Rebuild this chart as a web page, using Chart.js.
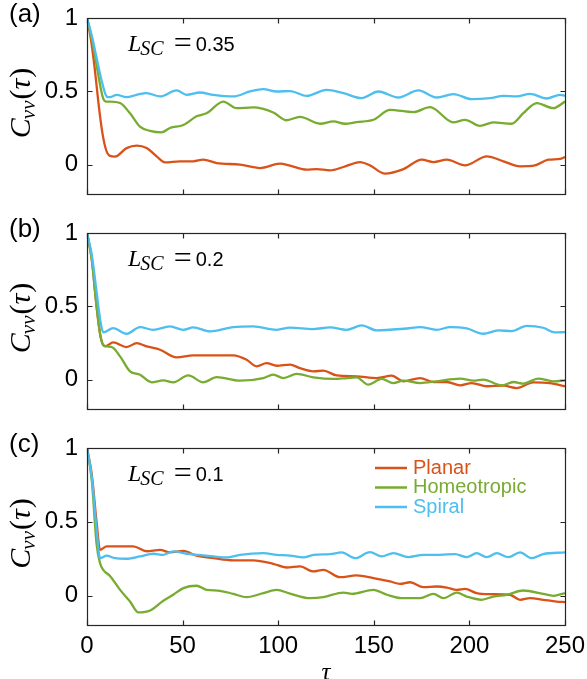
<!DOCTYPE html>
<html>
<head>
<meta charset="utf-8">
<script src="https://cdn.jsdelivr.net/npm/chart.js@4"></script>
<style>
  body { margin: 0; background: #fff; overflow: hidden; }
  #wrap { position: relative; width: 587px; height: 679px; }
  canvas { position: absolute; left: 0; }
</style>
</head>
<body>
<div id="wrap">
  <canvas id="ChartA" width="587" height="210" style="top:0px"></canvas>
  <canvas id="ChartB" width="587" height="215" style="top:210px"></canvas>
  <canvas id="ChartC" width="587" height="254" style="top:425px"></canvas>
</div>
<script>
// names and ticks
var seriesNames = ['Planar', 'Homeotropic', 'Spiral'];
var seriesColors = ['#D95319', '#77AC30', '#4DBEEE'];
var panelLetters = ['(a)', '(b)', '(c)'];
var lscValues = ['0.35', '0.2', '0.1'];
var xTicks = [0, 50, 100, 150, 200, 250];
var yTicks = [0, 0.5, 1];

// (a) L_SC = 0.35
var tauA_planar = [0, 2, 4, 6, 8, 10, 12, 14.6, 20.7, 26, 31.2, 36.4, 40.8, 48.6, 55.6, 60.8, 67.8, 80, 90.5, 100.9, 106.2, 114.9, 120.1, 127.1, 134.1, 142.8, 148, 155.9, 165.5, 175.1, 181.2, 188.2, 197.7, 209.1, 217.8, 226.5, 234.3, 241.3, 247.4, 250];
var cA_planar   = [1, 0.86, 0.66, 0.42, 0.22, 0.1, 0.06, 0.055, 0.113, 0.13, 0.113, 0.057, 0.016, 0.023, 0.023, 0.034, 0.011, 0, -0.023, 0.007, -0.007, -0.034, -0.03, -0.039, -0.016, 0.018, -0.005, -0.061, -0.03, 0.034, 0.018, 0.034, -0.005, 0.057, 0.023, -0.011, -0.005, 0.034, 0.039, 0.052];
var tauA_homeo  = [0, 2.5, 5, 7.5, 8.5, 10, 12, 17.3, 22.5, 27.7, 33, 39, 43.4, 50.4, 57.3, 62.5, 71.3, 78.2, 86.9, 97.4, 104.4, 111.4, 121.9, 128.9, 135, 141, 149.8, 158.5, 170.7, 179.4, 191.6, 197.7, 205.5, 212.5, 222.1, 228.2, 235.2, 243.9, 250];
var cA_homeo    = [1, 0.86, 0.68, 0.5, 0.45, 0.43, 0.43, 0.42, 0.35, 0.26, 0.23, 0.22, 0.25, 0.27, 0.33, 0.35, 0.43, 0.385, 0.39, 0.356, 0.303, 0.326, 0.279, 0.295, 0.279, 0.29, 0.306, 0.374, 0.358, 0.392, 0.288, 0.306, 0.265, 0.288, 0.279, 0.351, 0.42, 0.385, 0.43];
var tauA_spiral = [0, 2.5, 5, 7.7, 10.3, 12, 15.5, 20.7, 26, 31.2, 38.2, 46.9, 52.1, 59.1, 66.1, 76.5, 85.3, 92.2, 99.2, 106.2, 114.9, 125.3, 134.1, 143.7, 152.4, 162.8, 173.3, 182.9, 191.6, 201.2, 210.8, 217.8, 224.7, 231.7, 240.4, 247.4, 250];
var cA_spiral   = [1, 0.88, 0.73, 0.57, 0.465, 0.46, 0.476, 0.46, 0.476, 0.488, 0.465, 0.506, 0.476, 0.492, 0.476, 0.465, 0.499, 0.515, 0.499, 0.502, 0.469, 0.51, 0.488, 0.454, 0.499, 0.458, 0.506, 0.458, 0.481, 0.447, 0.454, 0.469, 0.465, 0.483, 0.451, 0.476, 0.469];

// (b) L_SC = 0.2
var tauB_planar = [0, 2.5, 5, 7, 9.5, 13.7, 20.7, 26, 31.2, 38.2, 46.9, 55.6, 66.1, 76.5, 83.5, 88.7, 93.9, 99.2, 106.2, 111.4, 118.4, 123.6, 130.6, 141, 151.5, 159.4, 165.5, 174.2, 181.2, 188.2, 195.2, 201.2, 209.1, 217.8, 224.7, 233.4, 242.1, 250];
var cB_planar   = [1, 0.82, 0.5, 0.3, 0.227, 0.254, 0.222, 0.249, 0.227, 0.204, 0.152, 0.166, 0.166, 0.166, 0.136, 0.091, 0.113, 0.095, 0.102, 0.079, 0.057, 0.061, 0.029, 0.023, 0.011, 0.027, -0.011, 0.011, -0.016, -0.016, -0.039, -0.023, -0.045, -0.041, -0.057, -0.018, -0.023, -0.045];
var tauB_homeo  = [0, 2.5, 5, 7, 8.5, 13, 17.3, 22.5, 27.7, 33.8, 39.9, 45.1, 53, 60.8, 67.8, 80, 92.2, 97.4, 102.7, 109.7, 118.4, 128.9, 135.8, 141, 147.1, 154.1, 160.2, 165.5, 174.2, 182.9, 195.2, 202.1, 207.3, 216.9, 223, 228.2, 236, 243.9, 250];
var cB_homeo    = [1, 0.82, 0.5, 0.3, 0.235, 0.222, 0.159, 0.057, 0.034, -0.018, -0.005, -0.018, 0.029, -0.018, 0.018, -0.007, 0.011, 0.034, 0.011, 0.039, 0.016, 0.005, 0.011, 0.016, -0.034, 0.005, -0.023, -0.007, -0.023, -0.011, 0.007, -0.007, 0, -0.039, -0.016, -0.027, 0.007, -0.011, -0.005];
var tauB_spiral = [0, 2.5, 5, 7, 8.5, 13.7, 20.7, 27.7, 34.7, 43.4, 50.4, 55.6, 64.3, 76.5, 86.9, 99.2, 106.2, 118.4, 127.1, 135.8, 143.7, 151.5, 167.2, 174.2, 182.9, 189.9, 198.6, 207.3, 215.1, 222.1, 229.9, 238.6, 244.7, 250];
var cB_spiral   = [1, 0.85, 0.6, 0.4, 0.322, 0.351, 0.313, 0.358, 0.34, 0.363, 0.34, 0.356, 0.329, 0.358, 0.363, 0.34, 0.355, 0.345, 0.356, 0.34, 0.37, 0.336, 0.349, 0.358, 0.34, 0.358, 0.349, 0.313, 0.336, 0.331, 0.367, 0.354, 0.322, 0.324];

// (c) L_SC = 0.1
var tauC_planar = [0, 2.5, 5, 6.8, 10.3, 13.7, 24.2, 31.2, 38.2, 43.4, 50.4, 57.3, 66.1, 76.5, 86.9, 97.4, 104.4, 111.4, 118.4, 123.6, 132.3, 141, 149.8, 158.5, 163.7, 169, 175.9, 182.9, 188.2, 193.4, 197.7, 203.8, 210.8, 221.2, 226.5, 231.7, 238.6, 245.6, 250];
var cC_planar   = [1, 0.82, 0.5, 0.31, 0.333, 0.333, 0.333, 0.3, 0.31, 0.292, 0.303, 0.27, 0.253, 0.238, 0.238, 0.215, 0.19, 0.197, 0.163, 0.174, 0.124, 0.136, 0.118, 0.095, 0.079, 0.09, 0.057, 0.061, 0.054, 0.038, 0.045, 0.016, 0.009, 0.005, -0.029, -0.018, -0.029, -0.041, -0.045];
var tauC_homeo  = [0, 2.5, 5, 6.8, 8.5, 12, 17.3, 22.5, 26.9, 33, 39.9, 45.1, 50.4, 57.3, 62.5, 69.5, 76.5, 83.5, 92.2, 99.2, 106.2, 116.6, 123.6, 134.1, 138.5, 149.8, 156.8, 164.6, 174.2, 181.2, 186.4, 193.4, 198.6, 206.4, 212.5, 219.5, 228.2, 238.6, 243.9, 250];
var cC_homeo    = [1, 0.78, 0.35, 0.22, 0.174, 0.133, 0.038, -0.041, -0.115, -0.102, -0.036, 0.005, 0.05, 0.066, 0.038, 0.032, 0.011, -0.011, 0.016, 0.038, 0.013, -0.018, -0.011, 0.02, 0.011, 0.038, 0.005, -0.018, -0.018, 0.011, -0.018, 0.02, -0.007, -0.029, -0.007, 0.005, 0.034, 0.011, -0.002, 0.016];
var tauC_spiral = [0, 2.5, 5, 6.8, 10.3, 14.6, 20.7, 27.7, 34.7, 39.9, 45.1, 52.1, 57.3, 66.1, 73, 80, 92.2, 99.2, 106.2, 113.2, 118.4, 127.1, 133.2, 140.2, 148, 154.1, 160.2, 168.1, 175.9, 184.6, 192.5, 198.6, 203.8, 209.1, 214.3, 220.4, 226.5, 232.6, 238.6, 250];
var cC_spiral   = [1, 0.8, 0.45, 0.253, 0.27, 0.253, 0.249, 0.265, 0.283, 0.276, 0.299, 0.283, 0.276, 0.265, 0.258, 0.276, 0.287, 0.276, 0.27, 0.258, 0.276, 0.281, 0.292, 0.253, 0.294, 0.265, 0.287, 0.26, 0.276, 0.276, 0.281, 0.26, 0.287, 0.26, 0.287, 0.26, 0.292, 0.253, 0.281, 0.292];

var tickFont = 'Liberation Sans';
var mathFont = 'Liberation Serif';
var axisColor = '#262626';

function toPoints(xs, ys) {
    return xs.map(function (x, i) { return { x: x, y: ys[i] }; });
}

// draw a run of text pieces, returns end x
function drawRun(ctx, parts, x, y) {
    parts.forEach(function (p) {
        ctx.font = p.f;
        x += p.gap || 0;
        ctx.fillText(p.t, x, y + (p.dy || 0));
        x += ctx.measureText(p.t).width;
    });
    return x;
}

function runWidth(ctx, parts) {
    var w = 0;
    parts.forEach(function (p) { ctx.font = p.f; w += (p.gap || 0) + ctx.measureText(p.t).width; });
    return w;
}

// рамка, внутренние засечки и подписи панели
var panelDecor = {
    id: 'panelDecor',
    afterDraw: function (chart, args, opts) {
        var ctx = chart.ctx;
        var a = chart.chartArea;
        var xs = chart.scales.x, ys = chart.scales.y;
        var L = Math.round(a.left) + 0.5, R = Math.round(a.right) + 0.5;
        var T = Math.round(a.top) + 0.5, B = Math.round(a.bottom) + 0.5;
        ctx.save();
        ctx.strokeStyle = axisColor;
        ctx.lineWidth = 1.2;
        ctx.strokeRect(L, T, R - L, B - T);
        ctx.beginPath();
        xTicks.forEach(function (v) {
            var px = Math.round(xs.getPixelForValue(v)) + 0.5;
            ctx.moveTo(px, B); ctx.lineTo(px, B - 5);
            ctx.moveTo(px, T); ctx.lineTo(px, T + 5);
        });
        yTicks.forEach(function (v) {
            var py = Math.round(ys.getPixelForValue(v)) + 0.5;
            ctx.moveTo(L, py); ctx.lineTo(L + 5, py);
            ctx.moveTo(R, py); ctx.lineTo(R - 5, py);
        });
        ctx.stroke();

        ctx.fillStyle = '#000';
        ctx.textBaseline = 'middle';
        ctx.textAlign = 'left';

        // (a), (b), (c)
        ctx.font = '26px "' + tickFont + '"';
        ctx.fillText(opts.letter, 9, a.top - 3);

        // C_vv(tau), повернутая
        var cy = (a.top + a.bottom) / 2 - 3;
        ctx.save();
        ctx.translate(22, cy);
        ctx.rotate(-Math.PI / 2);
        var big = 'italic 30px "' + mathFont + '"';
        var parts = [
            { t: 'C', f: big },
            { t: 'vv', f: 'italic 21px "' + mathFont + '"', dy: 7, gap: -1 },
            { t: '(', f: '30px "' + mathFont + '"', gap: 1 },
            { t: 'τ', f: big },
            { t: ')', f: '30px "' + mathFont + '"', gap: 1 }
        ];
        drawRun(ctx, parts, -runWidth(ctx, parts) / 2, 0);
        ctx.restore();

        // L_SC = ...
        var lparts = [
            { t: 'L', f: 'italic 24px "' + mathFont + '"' },
            { t: 'SC', f: 'italic 20px "' + mathFont + '"', dy: 5, gap: -1 },
            { t: '=', f: '32px "' + mathFont + '"', gap: 10 },
            { t: opts.lsc, f: '20px "' + tickFont + '"', gap: 4 }
        ];
        drawRun(ctx, lparts, a.left + 41, a.top + 27);

        // легенда
        if (opts.legend) {
            ctx.font = '20px "' + tickFont + '"';
            chart.data.datasets.forEach(function (ds, i) {
                var y = a.top + 20 + i * 19.5;
                ctx.strokeStyle = ds.borderColor;
                ctx.lineWidth = 2.5;
                ctx.beginPath();
                ctx.moveTo(a.left + 288, y); ctx.lineTo(a.left + 320, y);
                ctx.stroke();
                ctx.fillStyle = ds.borderColor;
                ctx.fillText(ds.label, a.left + 326, y);
            });
        }
        ctx.restore();
    }
};

function makeDatasets(series) {
    return series.map(function (s, i) {
        return {
            label: seriesNames[i],
            data: toPoints(s[0], s[1]),
            borderColor: seriesColors[i],
            borderWidth: 2.3,
            pointRadius: 0,
            cubicInterpolationMode: 'monotone',
            order: 2 - i
        };
    });
}

function makeChart(id, series, idx, topPad, xHeight, showX) {
    var canvas = document.getElementById(id);
    return new Chart(canvas, {
        type: 'line',
        data: { datasets: makeDatasets(series) },
        options: {
            responsive: false,
            animation: false,
            layout: { padding: { left: 0, right: 22, top: topPad, bottom: 0 } },
            plugins: {
                legend: { display: false },
                tooltip: { enabled: false },
                panelDecor: { letter: panelLetters[idx], lsc: lscValues[idx], legend: idx === 2 }
            },
            scales: {
                x: {
                    type: 'linear', min: 0, max: 250,
                    grid: { display: false, drawTicks: false },
                    border: { display: false },
                    afterBuildTicks: function (s) { s.ticks = xTicks.map(function (v) { return { value: v }; }); },
                    ticks: { display: showX, color: '#000', font: { family: tickFont, size: 24 }, padding: 7, maxRotation: 0 },
                    title: { display: showX, text: 'τ', color: '#000', font: { family: mathFont, style: 'italic', size: 25 }, padding: { top: 0, bottom: -9 } },
                    afterFit: function (s) { s.height = xHeight; s.paddingLeft = 0; s.paddingRight = 0; }
                },
                y: {
                    min: -0.2, max: 1,
                    grid: { display: false, drawTicks: false },
                    border: { display: false },
                    afterBuildTicks: function (s) { s.ticks = yTicks.map(function (v) { return { value: v }; }); },
                    ticks: { color: '#000', font: { family: tickFont, size: 24 }, padding: 9, callback: function (v) { return String(v); } },
                    afterFit: function (s) { s.width = 87; s.paddingTop = 0; s.paddingBottom = 0; }
                }
            }
        },
        plugins: [panelDecor]
    });
}

makeChart('ChartA', [[tauA_planar, cA_planar], [tauA_homeo, cA_homeo], [tauA_spiral, cA_spiral]], 0, 18, 16, false);
makeChart('ChartB', [[tauB_planar, cB_planar], [tauB_homeo, cB_homeo], [tauB_spiral, cB_spiral]], 1, 23, 16, false);
makeChart('ChartC', [[tauC_planar, cC_planar], [tauC_homeo, cC_homeo], [tauC_spiral, cC_spiral]], 2, 23, 54, true);
</script>
</body>
</html>
